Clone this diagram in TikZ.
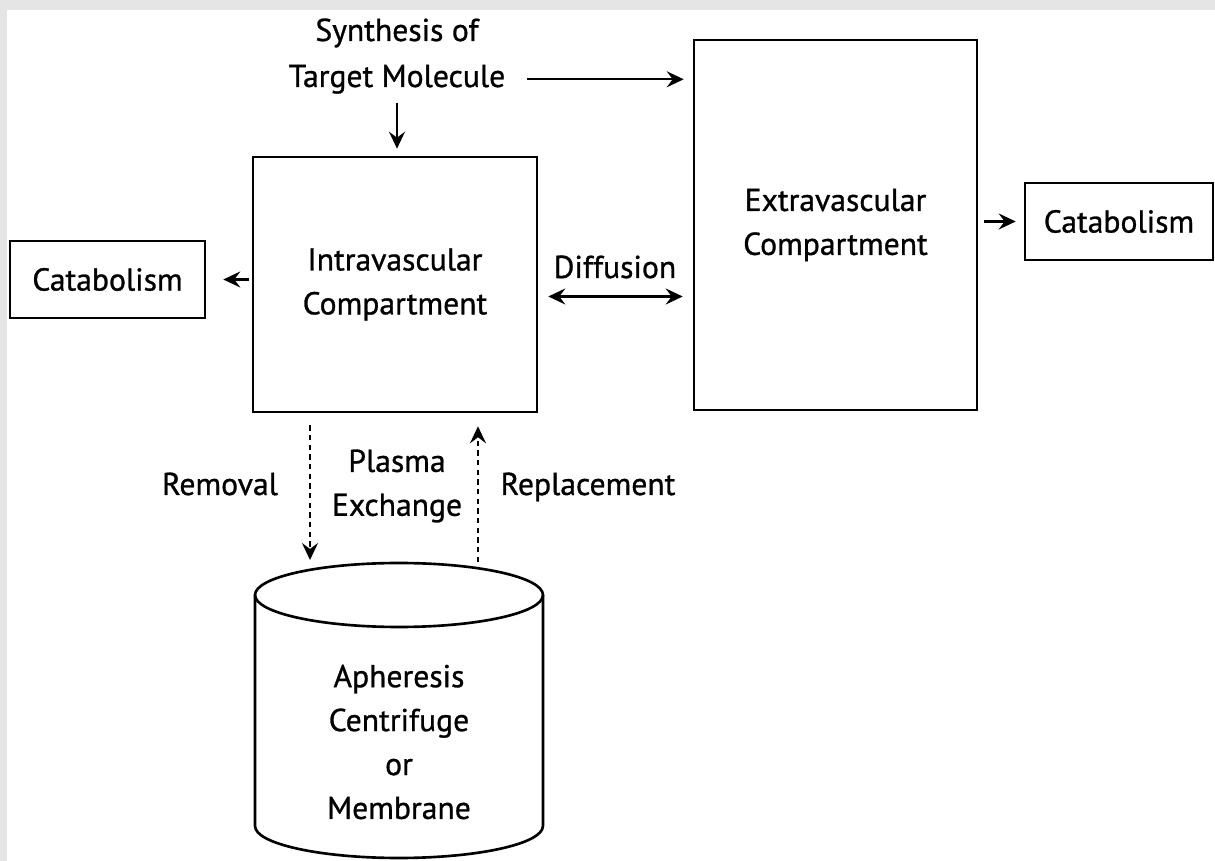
\documentclass[tikz,border=0pt]{standalone}
\usepackage{fontspec}
\setmainfont{PT Sans}[FakeBold=0.9]
\usetikzlibrary{arrows.meta, positioning, calc}

\begin{document}
\begin{tikzpicture}[
    x=0.02cm, y=-0.02cm,
    >={Stealth[length=3.4mm, width=3.2mm, inset=1.2mm]},
    font=\fontsize{18}{25}\selectfont,
    box/.style={rectangle, draw, line width=1.5pt, align=center, inner sep=0pt},
    txt/.style={align=center, inner sep=1pt},
    rim/.style={line width=1.5pt},
    flow/.style={->, line width=1.2pt},
    pex/.style={->, line width=1.2pt, dash pattern=on 3pt off 2.5pt}
]

% Cylinder geometry
\def\cx{399}
\def\ctop{595}
\def\cbot{826}
\def\xl{255}
\def\xr{543}

% ---------- Background ----------
\fill[gray!20] (0,0) rectangle (1215,861);
\fill[white] (7,10) rectangle (1215,861);

% ---------- Compartments ----------
\node[box, minimum width=5.68cm, minimum height=5.1cm] (intra) at (395,284.5) {Intravascular\\Compartment};
\node[box, minimum width=5.66cm, minimum height=7.4cm] (extra) at (835.5,225) {Extravascular\\Compartment};

% ---------- Catabolism ----------
\node[box, minimum width=3.9cm, minimum height=1.54cm] (catL) at (107.5,279.5) {Catabolism};
\node[box, minimum width=3.76cm, minimum height=1.54cm] (catR) at (1119,221.5) {Catabolism};

% ---------- Labels ----------
\node[txt, anchor=base] (synA) at (397,41) {Synthesis of};
\node[txt, anchor=base] (synB) at (397,87) {Target Molecule};
\node[txt, anchor=base] (diff) at (615,278) {Diffusion};
\node[txt, anchor=base] (rem) at (220,495) {Removal};
\node[txt, anchor=base] (rep) at (588,495) {Replacement};
\node[txt] (plex) at (397,486) {Plasma\\Exchange};

% ---------- Apheresis ----------
\draw[rim] (\xl,\ctop) -- (\xl,\cbot) arc[start angle=180, end angle=360, x radius=2.88cm, y radius=0.64cm] -- (\xr,\ctop);
\draw[rim] (\cx,\ctop) ellipse[x radius=2.88cm, y radius=0.64cm];
\node[txt] (aph) at (\cx,742) {Apheresis\\Centrifuge\\or\\Membrane};

\coordinate (remEnd) at (310,560);
\coordinate (repStart) at (478,562);

% ---------- Connections ----------
\draw[flow, shorten <=0.14cm, shorten >=0.14cm] (synB.south) -- (synB.south |- intra.north);
\draw[flow, shorten <=0.4cm, shorten >=0.18cm] (synB.east) -- (synB.east -| extra.west);
\draw[<->, line width=1.2pt, shorten <=0.2cm, shorten >=0.2cm] ($(intra.east)+(0,12)$) -- ($(extra.west |- intra.east)+(0,12)$);
\draw[flow, shorten <=0.06cm, shorten >=0.34cm] (intra.west |- catL.east) -- (catL.east);
\draw[flow, shorten <=0.12cm, shorten >=0.16cm] (extra.east |- catR.west) -- (catR.west);

\draw[pex, shorten <=0.24cm] (remEnd |- intra.south) -- (remEnd);
\draw[pex, shorten >=0.26cm] (repStart) -- (repStart |- intra.south);

\end{tikzpicture}
\end{document}
